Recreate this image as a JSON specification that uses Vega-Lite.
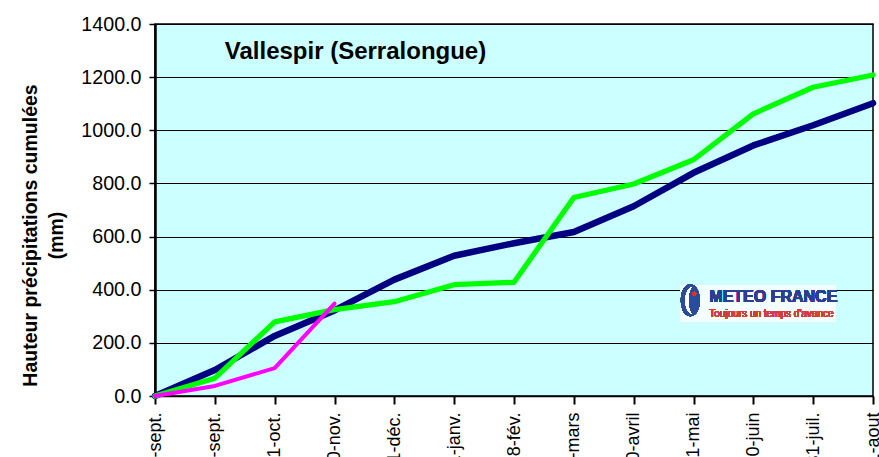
{
  "$schema": "https://vega.github.io/schema/vega-lite/v6.json",
  "autosize": "none",
  "width": 718,
  "height": 372,
  "padding": {"left": 155, "top": 24, "right": 6, "bottom": 61},
  "background": "white",
  "config": {
    "font": "Liberation Sans",
    "view": {"fill": "#CCFFFF", "stroke": "#000000", "strokeWidth": 1.5}
  },
  "title": {
    "text": "Vallespir (Serralongue)",
    "anchor": "start",
    "dx": 204,
    "offset": -50,
    "font": "Liberation Sans",
    "fontSize": 24,
    "fontWeight": "bold",
    "color": "#000000"
  },
  "data": {
    "values": [
      {"date": "1-sept.", "serie": "normale", "mm": 0},
      {"date": "30-sept.", "serie": "normale", "mm": 98},
      {"date": "31-oct.", "serie": "normale", "mm": 226},
      {"date": "30-nov.", "serie": "normale", "mm": 322},
      {"date": "31-déc.", "serie": "normale", "mm": 438},
      {"date": "31-janv.", "serie": "normale", "mm": 528},
      {"date": "28-fév.", "serie": "normale", "mm": 575},
      {"date": "31-mars", "serie": "normale", "mm": 617},
      {"date": "30-avril", "serie": "normale", "mm": 714},
      {"date": "31-mai", "serie": "normale", "mm": 840},
      {"date": "30-juin", "serie": "normale", "mm": 943},
      {"date": "31-juil.", "serie": "normale", "mm": 1019},
      {"date": "31-aout", "serie": "normale", "mm": 1102},
      {"date": "1-sept.", "serie": "annee1", "mm": 0},
      {"date": "30-sept.", "serie": "annee1", "mm": 67},
      {"date": "31-oct.", "serie": "annee1", "mm": 279},
      {"date": "30-nov.", "serie": "annee1", "mm": 325},
      {"date": "31-déc.", "serie": "annee1", "mm": 355},
      {"date": "31-janv.", "serie": "annee1", "mm": 419},
      {"date": "28-fév.", "serie": "annee1", "mm": 428},
      {"date": "31-mars", "serie": "annee1", "mm": 747},
      {"date": "30-avril", "serie": "annee1", "mm": 798},
      {"date": "31-mai", "serie": "annee1", "mm": 889},
      {"date": "30-juin", "serie": "annee1", "mm": 1062},
      {"date": "31-juil.", "serie": "annee1", "mm": 1162},
      {"date": "31-aout", "serie": "annee1", "mm": 1208},
      {"date": "1-sept.", "serie": "annee2", "mm": 0},
      {"date": "30-sept.", "serie": "annee2", "mm": 38},
      {"date": "31-oct.", "serie": "annee2", "mm": 105},
      {"date": "30-nov.", "serie": "annee2", "mm": 348}
    ]
  },
  "encoding": {
    "x": {
      "field": "date",
      "type": "ordinal",
      "sort": ["1-sept.", "30-sept.", "31-oct.", "30-nov.", "31-déc.", "31-janv.", "28-fév.", "31-mars", "30-avril", "31-mai", "30-juin", "31-juil.", "31-aout"],
      "scale": {"type": "point", "padding": 0},
      "axis": {
        "title": null,
        "labelAngle": -90,
        "labelFontSize": 18,
        "labelColor": "#000000",
        "labelPadding": 8,
        "labelFont": "Liberation Sans",
        "tickColor": "#000000",
        "tickSize": 8,
        "tickWidth": 2,
        "domainColor": "#000000",
        "domainWidth": 1.5,
        "grid": false
      }
    },
    "y": {
      "field": "mm",
      "type": "quantitative",
      "scale": {"domain": [0, 1400], "nice": false},
      "axis": {
        "title": ["Hauteur précipitations cumulées", "(mm)"],
        "titleFontSize": 19.5,
        "titleFontWeight": "bold",
        "titleColor": "#000000",
        "titleFont": "Liberation Sans",
        "titleLineHeight": 26,
        "titlePadding": 14,
        "titleY": 211,
        "values": [0, 200, 400, 600, 800, 1000, 1200, 1400],
        "format": ".1f",
        "labelFontSize": 19.7,
        "labelColor": "#000000",
        "labelFont": "Liberation Sans",
        "labelPadding": 8,
        "tickColor": "#000000",
        "tickSize": 6,
        "tickWidth": 1.5,
        "domainColor": "#000000",
        "domainWidth": 2.5,
        "grid": true,
        "gridColor": "#000000",
        "gridWidth": 1,
        "gridOpacity": 1
      }
    }
  },
  "layer": [
    {
      "mark": {"type": "line", "strokeCap": "round", "strokeJoin": "round"},
      "encoding": {
        "color": {
          "field": "serie",
          "type": "nominal",
          "scale": {"domain": ["normale", "annee1", "annee2"], "range": ["#000080", "#00FF00", "#FF00FF"]},
          "legend": null
        },
        "strokeWidth": {
          "field": "serie",
          "type": "nominal",
          "scale": {"domain": ["normale", "annee1", "annee2"], "range": [6.5, 4, 3.5]},
          "legend": null
        },
        "order": {"field": "serie", "sort": "descending"}
      }
    },
    {
      "mark": {"type": "rect", "fill": "#F4FFFF", "width": 155, "height": 37},
      "encoding": {
        "x": {"datum": "30-juin"},
        "xOffset": {"value": 5},
        "y": {"datum": 348}
      }
    },
    {
      "mark": {"type": "text", "text": "METEO FRANCE", "font": "Liberation Sans", "fontSize": 16, "fontWeight": "bold", "color": "#2A3F8F", "align": "left", "baseline": "middle", "dx": -44},
      "encoding": {
        "x": {"datum": "30-juin"},
        "y": {"datum": 373}
      }
    },
    {
      "mark": {"type": "text", "text": "Toujours un temps d'avance", "font": "Liberation Sans", "fontSize": 10, "color": "#D23C3C", "align": "left", "baseline": "middle", "dx": -44},
      "encoding": {
        "x": {"datum": "30-juin"},
        "y": {"datum": 308}
      }
    },
    {
      "mark": {"type": "point", "filled": true, "shape": "M 0 -1 C 0.8 -1 0.8 1 0 1 C -0.8 1 -0.8 -1 0 -1 Z", "size": 1000, "color": "#2B4C9B", "opacity": 1},
      "encoding": {
        "x": {"datum": "30-juin"},
        "xOffset": {"value": -63},
        "y": {"datum": 360}
      }
    },
    {
      "mark": {"type": "point", "filled": true, "shape": "M 0.1 -0.85 C -0.45 -0.65 -0.45 0.65 0.1 0.85 C -0.2 0.6 -0.2 -0.6 0.1 -0.85 Z", "size": 1000, "color": "#FFFFFF", "opacity": 1},
      "encoding": {
        "x": {"datum": "30-juin"},
        "xOffset": {"value": -63},
        "y": {"datum": 360}
      }
    },
    {
      "mark": {"type": "point", "filled": true, "shape": "circle", "size": 14, "color": "#E03030", "opacity": 1},
      "encoding": {
        "x": {"datum": "30-juin"},
        "xOffset": {"value": -59},
        "y": {"datum": 385}
      }
    }
  ]
}
